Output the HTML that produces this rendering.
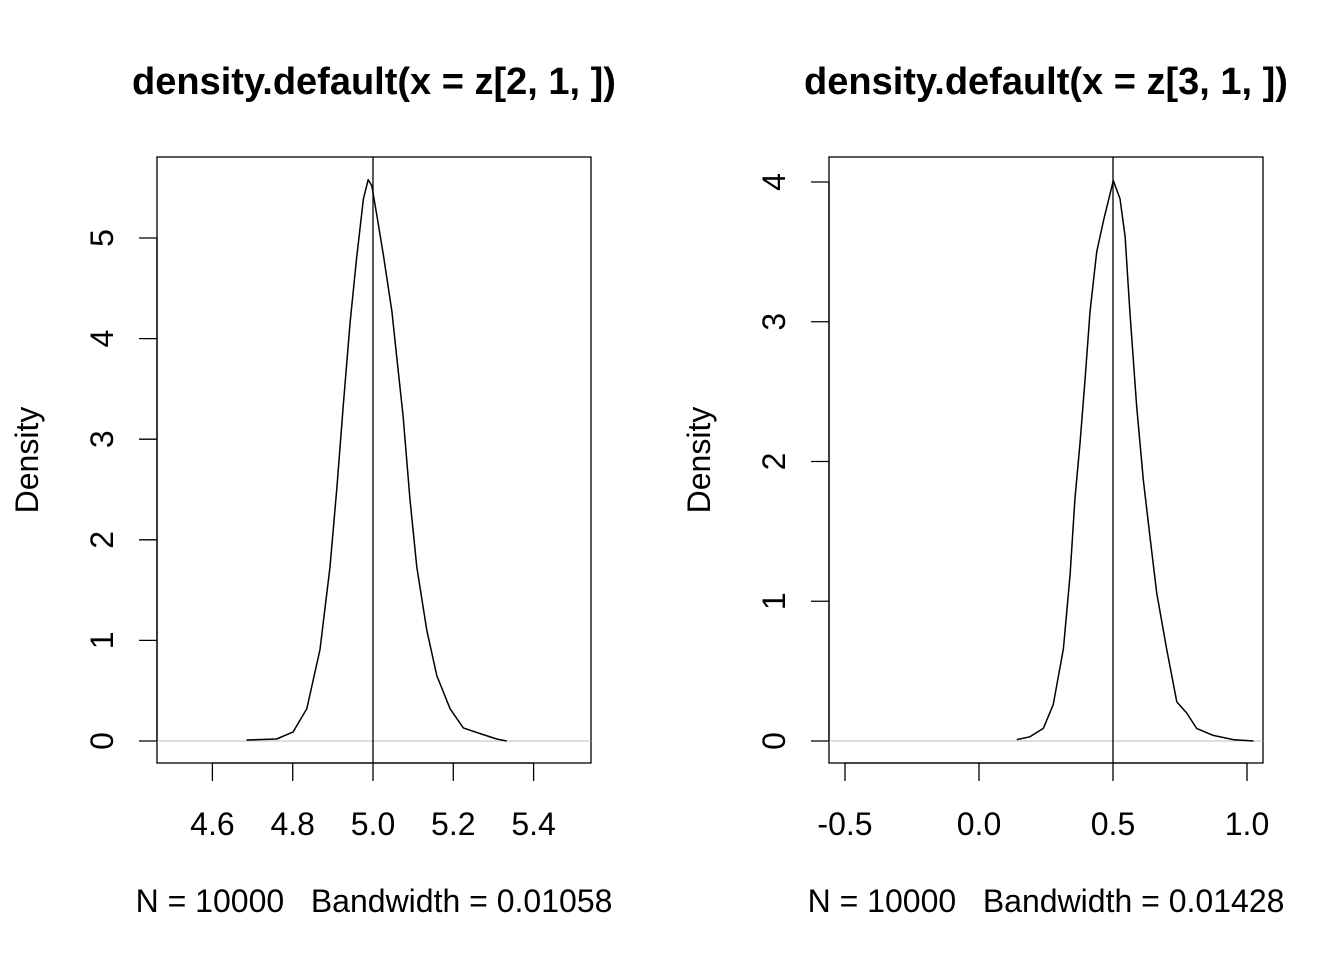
<!DOCTYPE html>
<html><head><meta charset="utf-8"><style>
body{margin:0;background:#fff}
text{font-family:"Liberation Sans",sans-serif;fill:#000}
</style></head><body>
<svg id="chart" width="1344" height="960" viewBox="0 0 1344 960" xmlns="http://www.w3.org/2000/svg"></svg>
<script>
const leftX=[4.685,4.760,4.801,4.835,4.868,4.893,4.910,4.926,4.943,4.959,4.976,4.988,4.997,5.009,5.026,5.047,5.059,5.075,5.092,5.109,5.134,5.159,5.192,5.225,5.266,5.308,5.333];
const leftY=[0.01,0.02,0.09,0.32,0.91,1.73,2.52,3.34,4.16,4.79,5.39,5.58,5.52,5.24,4.83,4.27,3.82,3.23,2.41,1.73,1.10,0.65,0.32,0.13,0.075,0.02,0.0];
const rightX=[0.141,0.190,0.240,0.277,0.315,0.340,0.358,0.377,0.396,0.414,0.439,0.464,0.501,0.526,0.545,0.563,0.588,0.613,0.638,0.663,0.700,0.738,0.775,0.812,0.874,0.949,1.024];
const rightY=[0.01,0.03,0.09,0.26,0.66,1.19,1.73,2.13,2.59,3.07,3.50,3.72,4.01,3.88,3.61,3.07,2.40,1.87,1.46,1.06,0.66,0.28,0.20,0.09,0.04,0.01,0.0];
const leftXTicks=[4.6,4.8,5.0,5.2,5.4], leftYTicks=[0,1,2,3,4,5];
const rightXTicks=[-0.5,0.0,0.5,1.0], rightYTicks=[0,1,2,3,4];
const svg=document.getElementById('chart');
const NS='http://www.w3.org/2000/svg';
function mk(tag,attrs,parent){const e=document.createElementNS(NS,tag);for(const k in attrs)e.setAttribute(k,attrs[k]);(parent||svg).appendChild(e);return e;}
function panel(p){
  const g=mk('g',{});
  
  
  const sx=v=>p.x0px+(v-p.x0)*p.xs, sy=v=>741-v*p.ys;
  const t=mk('text',{x:(p.bx0+p.bx1)/2,y:94,'text-anchor':'middle',style:'font-size:38px;font-weight:bold'},g);t.textContent=p.title;
  
  const b=mk('rect',{x:p.bx0,y:157,width:p.bx1-p.bx0,height:606,fill:'none',stroke:'#000','stroke-width':1.3},g);
  
  const zl=mk('line',{x1:p.bx0,x2:p.bx1,y1:sy(0),y2:sy(0),stroke:'#bebebe','stroke-width':1},g);
  
  const vl=mk('line',{x1:sx(p.vline),x2:sx(p.vline),y1:157,y2:763,stroke:'#000','stroke-width':1.3},g);
  
  const xa=mk('g',{},g);
  mk('line',{x1:sx(p.xt[0]),x2:sx(p.xt[p.xt.length-1]),y1:763,y2:763,stroke:'#000','stroke-width':1.3},xa);
  p.xt.forEach(v=>{mk('line',{x1:sx(v),x2:sx(v),y1:763,y2:781,stroke:'#000','stroke-width':1.3},xa);
    const l=mk('text',{x:sx(v),y:835,'text-anchor':'middle',style:'font-size:32px'},xa);l.textContent=v.toFixed(1);
    });
  const ya=mk('g',{},g);
  mk('line',{x1:p.bx0,x2:p.bx0,y1:sy(p.yt[0]),y2:sy(p.yt[p.yt.length-1]),stroke:'#000','stroke-width':1.3},ya);
  p.yt.forEach(v=>{mk('line',{x1:p.bx0-18,x2:p.bx0,y1:sy(v),y2:sy(v),stroke:'#000','stroke-width':1.3},ya);
    const X=p.bx0-44,Y=sy(v);
    const l=mk('text',{x:X,y:Y,'text-anchor':'middle',style:'font-size:32px',transform:`rotate(-90 ${X} ${Y})`},ya);l.textContent=v;
    });
  const X=p.bx0-119,Y=460;
  const yl=mk('text',{x:X,y:Y,'text-anchor':'middle',style:'font-size:32px',transform:`rotate(-90 ${X} ${Y})`},g);yl.textContent='Density';
  
  const xl=mk('text',{x:(p.bx0+p.bx1)/2,y:912,'text-anchor':'middle',style:'font-size:32px;white-space:pre'},g);xl.textContent=p.sub;
  
  const d=p.xs2.map((v,i)=>(i?'L':'M')+sx(v).toFixed(1)+','+sy(p.ys2[i]).toFixed(1)).join('');
  const c=mk('path',{d:d,fill:'none',stroke:'#000','stroke-width':1.5,'stroke-linejoin':'round'},g);
  
}
panel({name:'left-panel',title:'density.default(x = z[2, 1, ])',sub:'N = 10000   Bandwidth = 0.01058',bx0:157,bx1:591,x0:5.0,x0px:373,xs:401.5,ys:100.6,vline:5.0,xt:leftXTicks,yt:leftYTicks,xs2:leftX,ys2:leftY});
panel({name:'right-panel',title:'density.default(x = z[3, 1, ])',sub:'N = 10000   Bandwidth = 0.01428',bx0:829,bx1:1263,x0:0.5,x0px:1113,xs:268,ys:139.75,vline:0.5,xt:rightXTicks,yt:rightYTicks,xs2:rightX,ys2:rightY});
</script>
</body></html>
